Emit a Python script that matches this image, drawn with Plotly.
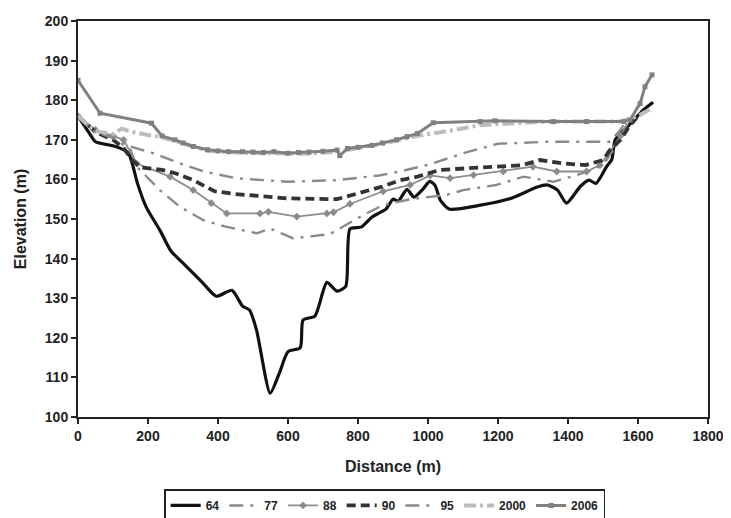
import plotly.graph_objects as go

# ---- data (distance m, elevation m) ----
d64 = [0, 30, 50, 100, 130, 145, 155, 170, 195, 235, 265, 310, 355, 395, 440, 470, 490, 510, 549, 575, 600, 635, 643, 677, 711, 740, 765, 777, 810, 840, 860, 880, 900, 915, 940, 960, 985, 1005, 1020, 1035, 1060, 1150, 1240, 1310, 1340, 1370, 1396, 1435, 1460, 1480, 1510, 1525, 1535, 1570, 1615, 1643]
e64 = [176, 172, 169.5, 168.5, 167.5, 166.5, 164, 159, 153, 147, 142, 138, 134, 130.5, 132, 128, 127, 122, 106, 111, 116.5, 117.5, 124.5, 125.5, 134, 131.8, 133, 147.5, 148, 150.5, 151.5, 152.5, 155, 154.5, 157.5, 155.5, 157.5, 159.5, 158.5, 154.8, 152.5, 153.5, 155.3, 158, 158.6, 157.3, 154, 158.2, 159.8, 159, 163.2, 165, 170, 173.3, 177.5, 179.5]

d77 = [0, 50, 100, 150, 168, 234, 291, 358, 425, 511, 549, 615, 720, 777, 815, 872, 950, 1006, 1053, 1101, 1196, 1273, 1358, 1425, 1482, 1511, 1545, 1570]
e77 = [176, 172, 170.5, 167.5, 163.2, 157.3, 153.1, 149.7, 148, 146.4, 147.6, 145.1, 146.2, 149, 151, 153.5, 155, 155.6, 156.1, 157.3, 158.6, 160.7, 159.4, 161.1, 162.8, 165, 170, 174]

d88 = [0, 50, 100, 130, 168, 263, 329, 381, 425, 520, 544, 625, 711, 730, 777, 872, 949, 1006, 1063, 1130, 1215, 1300, 1368, 1453, 1491, 1520, 1550]
e88 = [176, 172.5, 171, 170, 164, 160.7, 157.3, 154, 151.4, 151.4, 151.8, 150.6, 151.4, 151.7, 153.8, 157, 158.6, 161, 160.3, 161.1, 162, 163.2, 162, 162, 163.6, 167, 171]

d90 = [0, 50, 100, 130, 153, 180, 240, 280, 330, 390, 450, 600, 740, 780, 870, 920, 970, 1034, 1100, 1200, 1270, 1320, 1390, 1450, 1500, 1520, 1550, 1572, 1600]
e90 = [176, 172, 170, 168, 165, 163, 162.4, 161.5, 159.8, 157, 156.3, 155.2, 155, 156, 158.2, 159.8, 160.7, 162.4, 162.8, 163.2, 163.6, 164.9, 164, 163.6, 164.9, 167.4, 170, 173, 176]

d95 = [0, 50, 100, 150, 215, 290, 360, 450, 600, 740, 860, 920, 1006, 1100, 1200, 1340, 1520, 1545, 1570]
e95 = [176, 172, 170.5, 168.3, 166.6, 164.1, 162, 160.3, 159.4, 159.8, 161, 162, 163.8, 166.6, 169, 169.5, 169.5, 172, 175]

d2000 = [0, 30, 60, 100, 125, 155, 200, 220, 277, 370, 470, 560, 650, 740, 870, 970, 1000, 1063, 1150, 1340, 1550, 1600, 1640]
e2000 = [176, 173.5, 172, 171.5, 172.8, 172, 171.2, 171, 169.7, 167.2, 166.7, 166.7, 166.5, 167, 169, 171, 171.5, 172.3, 173.7, 174.6, 174.6, 176, 178]

d2006 = [0, 63, 210, 240, 277, 300, 330, 370, 400, 430, 470, 500, 530, 560, 600, 630, 660, 700, 740, 748, 770, 800, 840, 870, 910, 940, 970, 1015, 1149, 1191, 1358, 1453, 1560, 1577, 1606, 1620, 1640]
e2006 = [185, 176.7, 174.2, 171, 170, 169.2, 168.3, 167.5, 167.2, 167, 167, 166.9, 166.8, 167, 166.6, 166.8, 166.9, 167.1, 167.4, 166, 167.8, 168.1, 168.6, 169.2, 170, 170.8, 171.6, 174.3, 174.6, 174.8, 174.6, 174.6, 174.6, 175, 179.2, 183.4, 186.4]

x_ticks = [0, 200, 400, 600, 800, 1000, 1200, 1400, 1600, 1800]
y_ticks = [100, 110, 120, 130, 140, 150, 160, 170, 180, 190, 200]

FONT = "Arial, 'Liberation Sans', sans-serif"

fig = go.Figure()
fig.add_trace(go.Scatter(x=d64, y=e64, name="64", mode="lines",
                         line=dict(color="#111111", width=3.2, shape="spline", smoothing=0.6)))
fig.add_trace(go.Scatter(x=d77, y=e77, name="77", mode="lines",
                         line=dict(color="#8a8a8a", width=2.4, dash="14px,7px,3px,7px")))
fig.add_trace(go.Scatter(x=d88, y=e88, name="88", mode="lines+markers",
                         line=dict(color="#8c8c8c", width=1.8),
                         marker=dict(symbol="diamond", size=6, color="#8c8c8c")))
fig.add_trace(go.Scatter(x=d90, y=e90, name="90", mode="lines",
                         line=dict(color="#333333", width=3.8, dash="9px,5px")))
fig.add_trace(go.Scatter(x=d95, y=e95, name="95", mode="lines",
                         line=dict(color="#8a8a8a", width=2.4, dash="14px,7px,3px,7px")))
fig.add_trace(go.Scatter(x=d2000, y=e2000, name="2000", mode="lines",
                         line=dict(color="#bdbdbd", width=4, dash="12px,4px,3px,4px")))
fig.add_trace(go.Scatter(x=d2006, y=e2006, name="2006", mode="lines+markers",
                         line=dict(color="#808080", width=3),
                         marker=dict(symbol="square", size=5, color="#808080")))

fig.update_layout(
    width=723, height=510,
    margin=dict(l=70, r=23, t=13, b=101),
    paper_bgcolor="white", plot_bgcolor="white",
    font=dict(family=FONT, size=14, color="#222222", weight="bold"),
    showlegend=True,
    legend=dict(orientation="h", xref="container", yref="container",
                x=0.521, xanchor="center", y=0.056, yanchor="top",
                bordercolor="#222222", borderwidth=1.5,
                font=dict(family=FONT, size=12, color="#222222", weight="bold"),
                itemwidth=30, tracegroupgap=0),
)
fig.update_xaxes(range=[0, 1800], tickvals=x_ticks, ticks="outside", ticklen=5,
                 tickwidth=1.5, tickcolor="#222222", automargin=False,
                 showline=True, linecolor="#222222", linewidth=2, mirror=True,
                 showgrid=False, zeroline=False,
                 title=dict(text="Distance (m)", font=dict(size=16, weight="bold"), standoff=18),
                 tickfont=dict(size=14, weight="bold"))
fig.update_yaxes(range=[100, 200], tickvals=y_ticks, ticks="outside", ticklen=5,
                 tickwidth=1.5, tickcolor="#222222", automargin=False,
                 showline=True, linecolor="#222222", linewidth=2, mirror=True,
                 showgrid=False, zeroline=False,
                 title=dict(text="Elevation (m)", font=dict(size=16, weight="bold"), standoff=14),
                 tickfont=dict(size=14, weight="bold"))

fig.write_html("out.html")
